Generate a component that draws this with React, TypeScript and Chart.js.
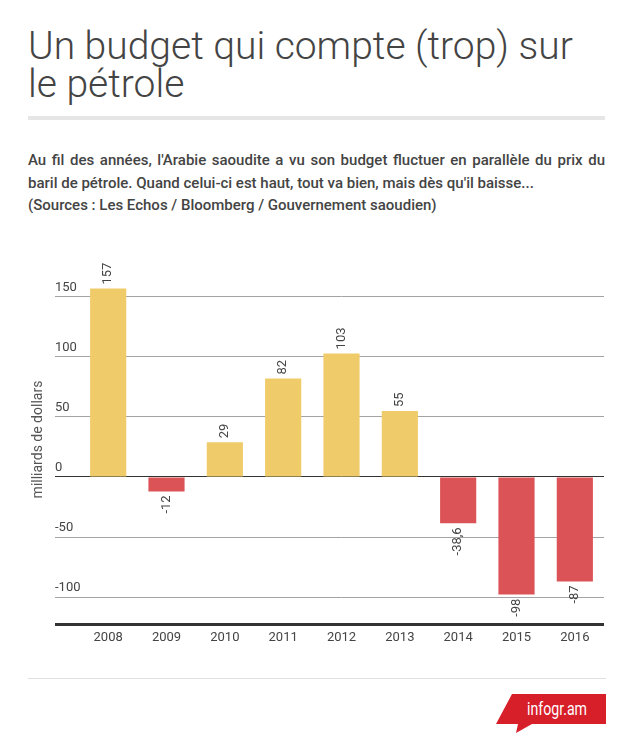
import React, { useEffect, useRef } from "react";
import { Chart, registerables } from "chart.js";

Chart.register(...registerables);

if (typeof document !== "undefined") {
  document.body.style.margin = "0";
}

// ---- data ----
const years: string[] = ["2008", "2009", "2010", "2011", "2012", "2013", "2014", "2015", "2016"];
const balance: number[] = [157, -12, 29, 82, 103, 55, -38.6, -98, -87];
const yTickValues: number[] = [-100, -50, 0, 50, 100, 150];
const yMin = -122.5;
const yMax = 185;
const yAxisTitle = "milliards de dollars";
const titleLines: string[] = ["Un budget qui compte (trop) sur", "le pétrole"];
const subtitleText =
  "Au fil des années, l'Arabie saoudite a vu son budget fluctuer en parallèle du prix du baril de pétrole. Quand celui-ci est haut, tout va bien, mais dès qu'il baisse...";
const sourceText = "(Sources : Les Echos / Bloomberg / Gouvernement saoudien)";

const positiveColor = "#f0cb69";
const negativeColor = "#dc5357";
const textColor = "#444444";

const formatValue = (v: number) => String(v).replace(".", ",");

const valueLabels = {
  id: "valueLabels",
  afterDatasetsDraw(chart: any) {
    const ctx = chart.ctx;
    const meta = chart.getDatasetMeta(0);
    ctx.save();
    ctx.font = "13px Roboto";
    ctx.fillStyle = textColor;
    ctx.textBaseline = "middle";
    meta.data.forEach((el: any, i: number) => {
      const v = balance[i];
      const { x, y } = el.getProps(["x", "y"], true);
      ctx.save();
      ctx.translate(x, v >= 0 ? y - 4 : y + 4);
      ctx.rotate(-Math.PI / 2);
      ctx.textAlign = v >= 0 ? "left" : "right";
      ctx.fillText(formatValue(v), 0, 0);
      ctx.restore();
    });
    ctx.restore();
  },
};

function BudgetChart() {
  const ref = useRef<HTMLCanvasElement | null>(null);
  useEffect(() => {
    if (!ref.current) return;
    const chart = new Chart(ref.current, {
      type: "bar",
      data: {
        labels: years,
        datasets: [
          {
            data: balance,
            backgroundColor: balance.map((v) => (v >= 0 ? positiveColor : negativeColor)),
            borderWidth: 0,
            barPercentage: 0.62,
            categoryPercentage: 1,
          },
        ],
      },
      options: {
        animation: false,
        responsive: false,
        layout: { padding: { left: 0, right: 29, top: 15, bottom: 18 } },
        plugins: {
          legend: { display: false },
          tooltip: { enabled: false },
        },
        scales: {
          x: {
            grid: { display: false, drawTicks: false },
            border: { display: false },
            ticks: {
              color: textColor,
              font: { family: "Roboto", size: 13 },
              padding: 6,
              maxRotation: 0,
              autoSkip: false,
            },
            afterFit: (scale: any) => {
              scale.height = 30;
            },
          },
          y: {
            min: yMin,
            max: yMax,
            bounds: "data",
            afterBuildTicks: (scale: any) => {
              scale.ticks = [yMin, ...yTickValues].map((value) => ({ value }));
            },
            border: { display: false },
            grid: {
              color: (c: any) =>
                c.tick && (c.tick.value === yMin || c.tick.value === 0) ? "#333333" : "#a3a3a3",
              lineWidth: (c: any) => (c.tick && c.tick.value === yMin ? 3 : 1),
              drawTicks: true,
              tickLength: 24,
            },
            ticks: {
              mirror: true,
              padding: -24,
              labelOffset: -9,
              color: textColor,
              font: { family: "Roboto", size: 13 },
              callback: (v: any) => (v === yMin ? "" : String(v)),
            },
            title: {
              display: true,
              text: yAxisTitle,
              color: "#555555",
              font: { family: "Roboto", size: 14 },
              padding: { top: 30, bottom: 0 },
            },
            afterFit: (scale: any) => {
              scale.width = 79;
            },
          },
        },
      },
      plugins: [valueLabels],
    } as any);
    return () => chart.destroy();
  }, []);
  return (
    <canvas
      ref={ref}
      width={633}
      height={432}
      style={{ position: "absolute", left: 0, top: 240, width: 633, height: 432 }}
    />
  );
}

export default function App() {
  return (
    <div
      style={{
        position: "relative",
        width: 633,
        height: 748,
        background: "#ffffff",
        fontFamily: "Roboto, sans-serif",
        overflow: "hidden",
      }}
    >
      <div
        style={{
          position: "absolute",
          left: 28,
          top: 27,
          width: 600,
          fontSize: 39,
          fontWeight: 300,
          lineHeight: "38px",
          color: textColor,
          whiteSpace: "nowrap",
        }}
      >
        {titleLines[0]}
        <br />
        {titleLines[1]}
      </div>
      <div
        style={{
          position: "absolute",
          left: 28,
          top: 116,
          width: 577,
          height: 4,
          background: "#e6e6e6",
        }}
      />
      <div
        style={{
          position: "absolute",
          left: 28,
          top: 149,
          width: 577,
          fontSize: 15,
          fontWeight: 500,
          lineHeight: "22.5px",
          color: textColor,
          textAlign: "justify",
        }}
      >
        {subtitleText}
        <br />
        {sourceText}
      </div>
      <BudgetChart />
      <div
        style={{
          position: "absolute",
          left: 28,
          top: 678,
          width: 578,
          height: 1,
          background: "#e0e0e0",
        }}
      />
      <svg
        width={110}
        height={41}
        style={{ position: "absolute", left: 496, top: 693 }}
      >
        <polygon
          points="16,1 110,1 110,31 36,31 20,40 22,31 0,31"
          fill="#d71f2a"
        />
        <text
          x={31}
          y={22}
          fill="#ffffff"
          fontFamily="Roboto, sans-serif"
          fontSize={18}
          textLength={60}
          lengthAdjust="spacingAndGlyphs"
        >
          infogr.am
        </text>
      </svg>
    </div>
  );
}
